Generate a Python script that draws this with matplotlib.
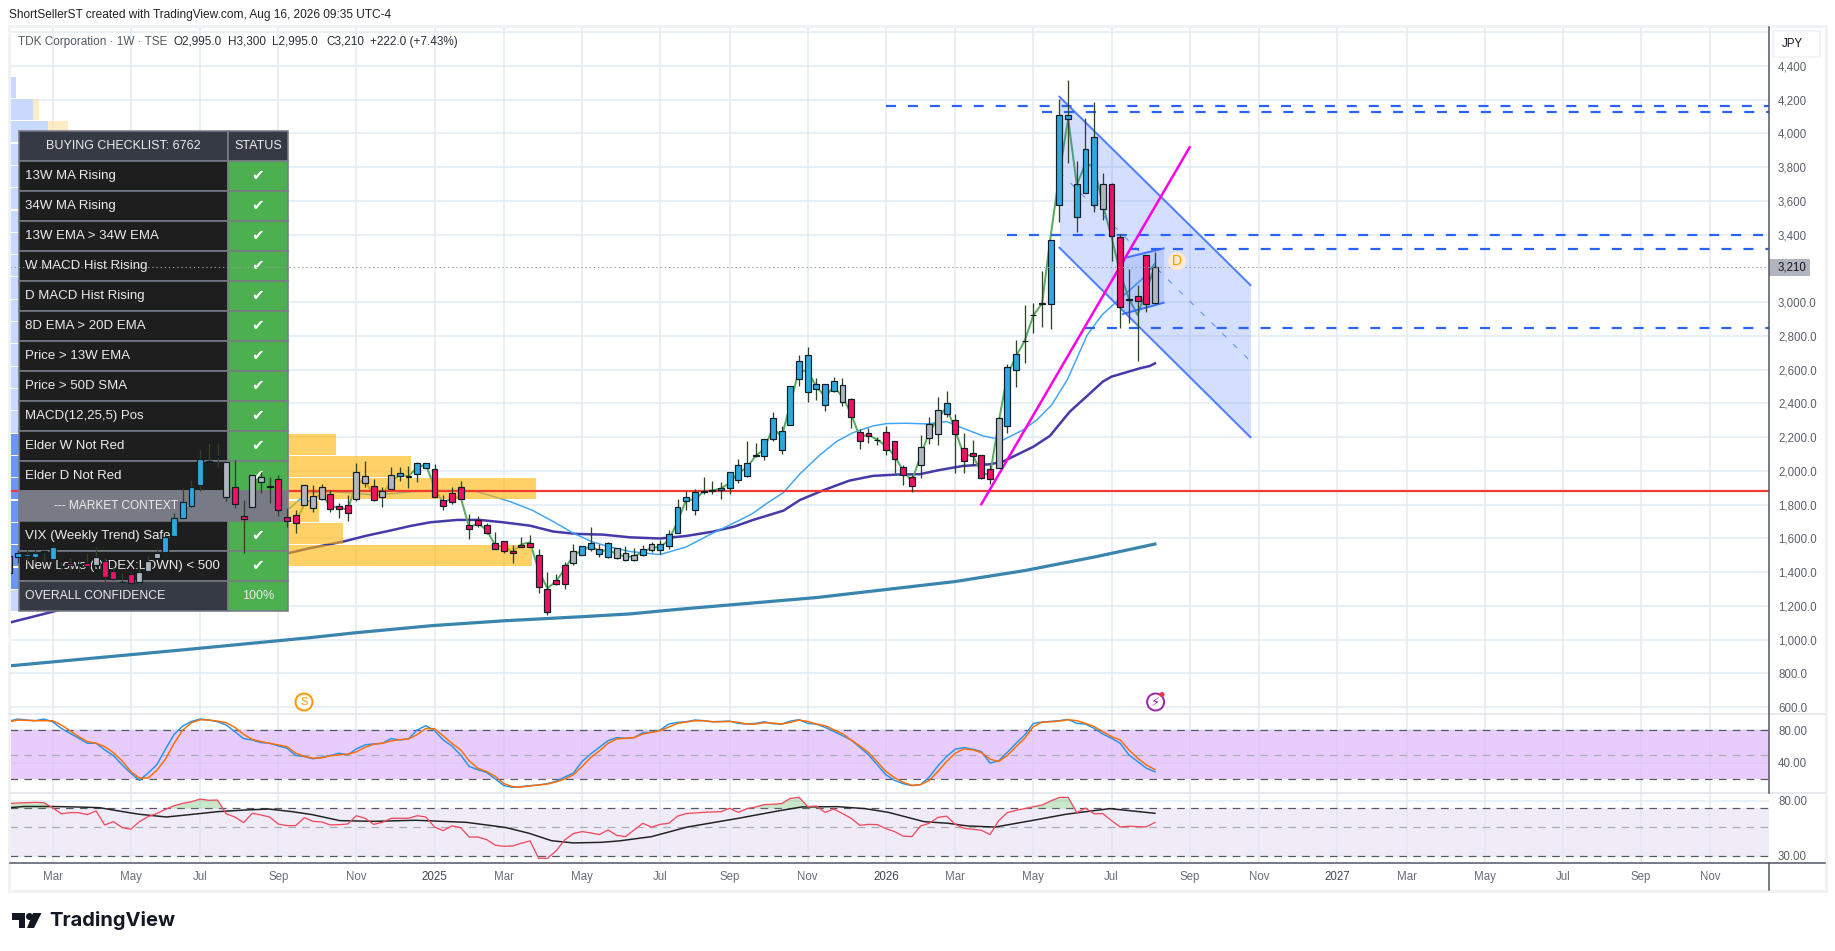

########################################################################
# TDK weekly chart with checklist table, stochastic and RSI panels     #
########################################################################

import numpy as np
import matplotlib
matplotlib.use('Agg')
import matplotlib.pyplot as plt
from matplotlib.patches import Rectangle, Circle, Polygon
from matplotlib.lines import Line2D
from matplotlib.transforms import Affine2D

plt.rcParams['font.family'] = ['Liberation Sans', 'DejaVu Sans']
plt.rcParams['lines.scale_dashes'] = False

# candles, one per week, week 0 is 4 Mar 2024
first_week = -5
body_hi = [1496,1512,1506,1512,1524,1552,1437,1457,1450,1457,
           1492,1469,1410,1345,1392,1404,1469,1516,1611,1724,
           1818,1907,2073,2061,2091,2051,1907,1731,1974,1967,
           1912,1955,1730,1737,1919,1850,1904,1862,1791,1797,
           1992,1969,1909,1880,1975,1987,1971,2046,2046,2010,
           1830,1872,1904,1678,1712,1678,1576,1584,1528,1560,
           1572,1505,1303,1353,1441,1524,1558,1572,1536,1572,
           1542,1512,1505,1540,1565,1565,1625,1785,1844,1874,
           1884,1888,1902,1996,2034,2050,2093,2188,2312,2235,
           2502,2650,2686,2514,2514,2536,2508,2425,2229,2223,
           2186,2229,2176,2022,1963,2141,2277,2360,2401,2300,
           2135,2105,2093,2010,2312,2615,2692,2773,2924,2994,
           3367,4107,4107,3698,3906,3977,3698,3698,3384,3017,3035,3278,3210]
body_lo = [1394,1492,1494,1492,1520,1477,1429,1445,1445,1437,
           1443,1370,1358,1343,1335,1344,1406,1483,1518,1613,
           1720,1791,1915,2053,2083,1848,1805,1714,1785,1933,
           1908,1767,1702,1690,1797,1783,1836,1773,1773,1753,
           1836,1931,1826,1848,1896,1969,1967,1981,2016,1844,
           1791,1815,1836,1655,1678,1631,1540,1524,1516,1548,
           1552,1311,1163,1333,1329,1453,1501,1536,1511,1489,
           1487,1471,1475,1505,1530,1530,1555,1631,1821,1767,
           1874,1884,1890,1898,1945,1969,2091,2087,2188,2123,
           2275,2543,2466,2488,2389,2472,2407,2318,2176,2206,
           2184,2123,2069,1979,1913,2034,2194,2218,2336,2218,
           2058,2087,1957,1951,2016,2265,2601,2771,2922,2992,
           2987,3578,4087,3503,3645,3574,3550,3390,2970,3015,3005,2987,2995]
wick_hi = [1496,1532,1536,1536,1532,1562,1463,1483,1473,1512,
           1548,1483,1433,1394,1404,1433,1496,1542,1631,1749,
           1897,1947,2124,2164,2164,2051,2065,1828,1974,1996,
           1967,1976,1779,1769,1919,1917,1923,1888,1809,1858,
           2046,2060,1953,1908,2022,2022,2030,2056,2050,2042,
           1858,1908,1941,1746,1734,1690,1639,1584,1562,1611,
           1621,1538,1402,1390,1461,1568,1558,1667,1568,1580,
           1542,1556,1545,1560,1580,1590,1650,1832,1882,1892,
           1963,1941,1937,1996,2069,2178,2164,2188,2350,2267,
           2502,2688,2733,2549,2514,2555,2549,2435,2249,2253,
           2204,2267,2176,2036,1977,2212,2322,2437,2474,2338,
           2223,2184,2093,2036,2322,2634,2777,2984,2993,3187,
           3367,4202,4316,3837,4089,4186,3767,3704,3404,3197,3102,3278,3300]
wick_lo = [1394,1453,1463,1463,1469,1473,1414,1414,1404,1429,
           1433,1344,1354,1344,1325,1315,1404,1477,1516,1607,
           1720,1785,1884,2049,2026,1824,1783,1516,1785,1872,
           1808,1733,1670,1631,1797,1759,1828,1759,1724,1706,
           1825,1908,1821,1789,1896,1943,1898,1937,2016,1844,
           1769,1803,1832,1599,1670,1627,1540,1512,1457,1548,
           1548,1279,1149,1327,1303,1441,1501,1528,1489,1485,
           1477,1469,1465,1495,1520,1510,1540,1631,1769,1740,
           1864,1864,1836,1862,1931,1967,2081,2067,2180,2103,
           2271,2506,2411,2421,2358,2470,2385,2257,2131,2168,
           2154,2095,1990,1917,1878,1959,2160,2154,2322,1987,
           1987,2036,1951,1923,2016,2227,2500,2642,2820,2855,
           2839,3475,3827,3416,3645,3534,3487,3246,2849,2875,2654,2944,2995]
# b blue, p pink, g grey, k doji
bar_tone = ('bbbbkbppppgppkpgggbbbbbbbgppggkpppgggpppggpggbkbb'
            'pppppppppppppppp' 'gbbbbgggbgbbbbbbkbbbbkbbbbbbbbbg'
            'pppkppppgggbpppppgbbkkkbbbbbbgppkppg')

# short green line through the closes, starts at week 28
fast_start = 28
fast_line = [1700,1800,1840,1860,1790,1785,1770,1930,1945,1850,1860,1940,1975,1970,
             2020,2040,1900,1810,1840,1845,1665,1690,1650,1560,1550,1522,1565,1578,
             1410,1305,1345,1420,1500,1530,1555,1525,1530,1510,1490,1495,1520,1545,
             1550,1590,1700,1830,1830,1880,1885,1895,1930,1990,2020,2090,2130,2260,
             2200,2400,2600,2590,2500,2440,2500,2440,2340,2200,2215,2185,2150,2090,
             2000,1940,2090,2230,2310,2380,2240,2090,2095,1990,1975,2290,2570,2680,
             2772,2923,2993,3398,3763,4090,3694,3823,3803,3576,3388,3171,3023,2924,
             3072,3210]

ema13_weeks = [-5,-4,27.3,29.3,32.3,37,39.7,42.7,46.6,48.9,52.7,55.2,57.7,60,62.1,64,66.6,
               70,73,76,79.2,80.7,82.3,84.2,86.1,88.4,90.3,92.2,94.5,96.1,98.4,100.7,103,
               104.9,107.2,109.5,111.8,113.4,115.1,116.9,119.2,120.9,122.6,124.1,125.6,127]
ema13_vals = [1248,1277,1779,1868,1878,1858,1868,1884,1884,1878,1819,1769,1700,1631,1582,1552,1522,
              1505,1550,1630,1710,1750,1809,1872,1983,2095,2174,2227,2267,2281,2283,2279,2293,
              2253,2208,2184,2243,2303,2391,2540,2806,2925,3004,3072,3141,3230]
ema34_weeks = [-5,0,27.4,29.6,33.5,36.2,38.9,41.2,43.5,46.6,49.2,51.9,55,57.7,60.4,63.4,66.5,
               70,73,76,78.5,80.7,84.2,86.1,88.7,91.8,94.5,97.3,99.9,102.2,104.9,108,109.5,
               113,114.9,117.2,119.2,121,122,125.3,126.4,127]
ema34_vals = [1101,1166,1516,1542,1582,1617,1647,1674,1696,1710,1710,1696,1676,1641,1627,1623,1607,
              1600,1615,1640,1670,1710,1765,1828,1884,1943,1971,1979,1981,2006,2030,2040,2056,
              2144,2208,2352,2445,2530,2559,2609,2622,2638]
sma200_weeks = [-5,15,29.6,35,43.8,51.9,61.1,66.5,72,88,104,112,120,127]
sma200_vals = [845,940,1012,1042,1084,1112,1137,1153,1180,1250,1345,1410,1490,1567]

# horizontal levels, drawn from the given week to the axis
level_prices = [4163,4130,3398,3315,2849]
level_starts = [96,114,110,124,119]
support_price = 1881
last_close = 3210

# drawn channels and trend line
channel_weeks = [116,138]
channel_upper = [4218,3102]
channel_lower = [3323,2200]
flag_weeks = [123.3,128]
flag_upper = [3260,3319]
flag_lower = [2930,2997]
trend_weeks = [107,131]
trend_prices = [1803,3918]

# volume profile rows, top price of each row, right ends in weeks
profile_tops = [4336,4204,4072,3940,3808,3675,3543,3411,3279,3147,3014,2882,
                2750,2618,2486,2353,2221,2089,1957,1825,1692,1560,1428,1296]
profile_blue = [-4.2,-2.3,-0.5,10,10,10,10,10,10,10,10,10,10,10,10,10,20,20,20,20,20,20,20,10]
profile_total = [-4.2,-1.6,1.8,15,15,15,15,15,15,15,15,15,15,15,15,15,32.6,41.3,55.7,30.7,33.5,55.2,25,15]

# stochastic panel
stoch_k = [90.9,93.4,92.2,91.4,93.4,90.1,82,76,69.9,63.8,63.8,55.7,48.8,37.4,27.3,18.4,27.3,37.4,
           56.5,74.7,84.9,90.5,93.4,92.2,90.1,86.1,78,69.5,67.8,64.6,63.8,60.5,57.7,48.8,47.6,44.7,
           46.7,48.8,51.6,49.6,56.9,61.8,63,63.8,69.5,67.8,69.1,80,85.3,79.2,67.8,60.5,49.6,35.4,
           31.4,28.1,20,11.9,9.9,10.7,11.9,12.7,14.3,17.2,22.4,27.3,41.5,50.8,58.9,67,70.7,
           69.9,70.7,76.8,77.2,80,87.3,89.3,90.1,92.2,91.4,90.1,90.5,90.9,88.1,87.3,88.1,90.1,87.7,
           87.3,90.9,92.6,88.1,87.3,83.2,78.4,73.1,67.8,58.9,49.6,37.4,25.3,18.4,14.3,11.9,13.1,22.4,
           36.2,47.6,56.5,58.5,56.5,53.6,39.5,42.3,52.8,63.8,73.9,88.1,89.7,90.5,91.4,93,88.1,87.3,
           82,75.1,69.9,63.8,49.6,41.5,33.4,28.9]
stoch_d = [90.1,92.2,91.8,91.4,91.4,91.4,86.1,79.2,71.9,65.8,63.8,59.7,52.4,42.3,29.3,21.2,21.2,30.5,
           44.3,63.8,80,88.9,92.6,92.2,90.9,88.9,83.2,74.7,68.6,65.8,63.8,61.8,59.7,51.6,47.6,45.5,
           45.9,48.4,49.6,50.4,53.2,58.9,62.6,63.8,66.6,68.2,69.1,74.3,82,81.6,72.7,63.8,55.7,42.3,
           33,29.3,23.2,14.3,10.7,10.3,11.5,12.7,13.9,16.4,20,25.3,35.4,46.4,54.5,63.8,69.1,
           69.9,70.7,75.1,77.2,79.2,83.6,88.1,89.7,91.4,91.4,90.1,90.1,90.5,89.3,87.3,87.3,88.9,88.5,
           87.3,89.3,92.2,90.5,87.3,85.3,80.4,75.5,67.8,60.5,52.4,41.1,29.3,21.6,15.9,12.3,13.1,18.4,
           29.3,41.5,51.6,56.9,55.7,52.4,44.3,41.5,48.8,59.7,69.9,84.1,89.7,90.1,90.9,92.6,91.4,88.1,
           84.1,78,71.9,67.8,55.7,45.5,37.4,31.4]

# RSI panel
rsi_vals = [76.7,77.2,77.6,78.1,77.6,71,63.6,65,65,62.7,67,52.1,55.3,49.8,48.3,55.3,60.5,63.9,68.9,
            73.5,76.7,79,82.9,81,81.4,63.6,60.1,54.3,64.2,62.3,60.1,53,51.5,51.5,59.4,55.6,55,52.1,
            52.4,53,61.5,58.7,52.7,54.6,58.7,58.7,58.7,61.5,60.1,50.2,47.1,51.2,49.8,42,42,40.1,36.3,
            35.6,35.8,37.6,39.2,28.7,28.7,32.7,39.9,44.7,46.3,45.2,43.9,47.7,43.2,
            42.3,47.7,53.7,50.2,52.7,53.7,61,63.9,64.6,65.3,65.7,66.1,70.2,65.3,69.8,71.9,75,75.5,
            76.4,83.9,85.4,72.3,73.1,65.3,69.3,63.9,58.7,51.8,52.7,52.4,48.8,46.3,42.7,42.3,51.2,53.7,
            59.7,61,52.7,49.1,48.3,47.4,43.9,56.3,65,67.7,69.8,72.3,74.4,80,85.4,85.4,65,70.4,63.6,
            63.9,56.3,50.3,50.9,50.6,50.3,54.6]
rsi_ma_weeks = [-5,-3.3,0,3.1,5.4,7.6,9.9,13.1,15.8,19,22.2,24.9,27.6,29.9,33.1,37.2,41.8,47.7,52.2,
                54.9,57.5,60,63.2,65.3,69,73.1,79,83.6,86.3,90.4,93.6,96.3,100.4,103.2,105.4,108.6,
                113.2,116.8,121.8,127]
rsi_ma_vals = [71,72.5,72.5,71.8,71,67,63.2,60.1,62.7,66.1,68.1,69.3,66.1,62.7,56.3,55.6,56.7,54.6,49.8,
               44.9,39.3,37.8,38.2,39.2,42.3,50.2,58.7,67,71.9,72.3,69.8,65.3,55.3,53.7,51.2,50.2,
               57,63.2,69.8,64.2]

# axis ticks
month_weeks = [0,9,17,26,35,44,52,61,70,78,87,96,104,113,122,131,139,148,156,165,174,183,191]
month_names = ['Mar','May','Jul','Sep','Nov','2025','Mar','May','Jul','Sep','Nov','2026',
               'Mar','May','Jul','Sep','Nov','2027','Mar','May','Jul','Sep','Nov']
price_ticks = [4600,4400,4200,4000,3800,3600,3400,3000,2800,2600,2400,2200,2000,
               1800,1600,1400,1200,1000,800,600]
price_labels = ['','4,400','4,200','4,000','3,800','3,600','3,400','3,000.0','2,800.0','2,600.0',
                '2,400.0','2,200.0','2,000.0','1,800.0','1,600.0','1,400.0','1,200.0','1,000.0',
                '800.0','600.0']

# checklist table
check_rows = ['13W MA Rising','34W MA Rising','13W EMA > 34W EMA','W MACD Hist Rising',
              'D MACD Hist Rising','8D EMA > 20D EMA','Price > 13W EMA','Price > 50D SMA',
              'MACD(12,25,5) Pos','Elder W Not Red','Elder D Not Red']
context_rows = ['VIX (Weekly Trend) Safe','New Lows (INDEX:LOWN) < 500']

W, H = 1835, 951
LEFT, RIGHT = 10, 1769
BLUE, PINK, GREY = '#2fa8e0', '#f50f62', '#b2b5be'
tone_colors = {'b':BLUE, 'p':PINK, 'g':GREY, 'k':'#000000'}
LEVEL = '#2962ff'

def lw(px):
  return px*0.72

def add_panel(top, bottom):
  ax = fig.add_axes([LEFT/W, 1-bottom/H, (RIGHT-LEFT)/W, (bottom-top)/H])
  ax.set_xlim(-4.91, 197.75)
  ax.set_xticks(month_weeks)
  ax.set_xticklabels([])
  ax.grid(True, color='#e3ecf2', lw=lw(1.5))
  ax.set_axisbelow(True)
  ax.yaxis.tick_right()
  ax.tick_params(length=0, labelsize=8.3, labelcolor='#5d606b', pad=6.5)
  for side in ['left','top','bottom','right']:
    ax.spines[side].set_visible(False)
  return ax

fig = plt.figure(figsize=(W/100, H/100), dpi=100)
# pixel coordinates with the origin top left, for the furniture around the chart
px = Affine2D().scale(1/W, -1/H).translate(0, 1) + fig.transFigure

def frame_line(x0, y0, x1, y1, color, width=1.5):
  fig.add_artist(Line2D([x0,x1], [y0,y1], color=color, lw=lw(width), transform=px))

ax = add_panel(27, 714)
ax_st = add_panel(714, 793)
ax_rsi = add_panel(793, 863)

# ---- price panel
ax.set_ylim(560, 4631)
ax.set_yticks(price_ticks)
ax.set_yticklabels(price_labels)
weeks = first_week + np.arange(len(body_hi))

ax.plot(sma200_weeks, sma200_vals, color='#3a85ad', lw=lw(3.2), zorder=3)
ax.plot(ema34_weeks, ema34_vals, color='#453aa8', lw=lw(2.5), zorder=3)
ax.plot(ema13_weeks, ema13_vals, color='#42a5f5', lw=lw(1.5), zorder=3)
ax.plot(fast_start + np.arange(len(fast_line)), fast_line, color='#5aab61', lw=lw(2), zorder=3)

# volume profile
tops = np.array(profile_tops)
x_min = ax.get_xlim()[0]
total = np.array(profile_total)
blue = np.array(profile_blue)
row_h = 125
dark = tops <= 2221
dark[-1] = False
ax.barh(tops-row_h/2, total-x_min, left=x_min, height=row_h,
        color=['#ffb300' if d else '#ffe0a0' for d in dark], alpha=0.6, lw=0, zorder=4)
ax.barh(tops-row_h/2, blue-x_min, left=x_min, height=row_h,
        color=['#6d94fb' if d else '#c9d8fd' for d in dark], lw=0, zorder=4)

# levels and drawings
ax.plot(ax.get_xlim(), [support_price]*2, color='#f23a33', lw=lw(2.2), zorder=5)
for price, start in zip(level_prices, level_starts):
  ax.plot([start, ax.get_xlim()[1]], [price, price], color=LEVEL, lw=lw(2.2),
          ls=(0,(7.2,8.6)), zorder=5)
ax.fill_between(channel_weeks, channel_lower, channel_upper, color=LEVEL, alpha=0.2, lw=0, zorder=4.5)
ax.plot(channel_weeks, channel_upper, color=LEVEL, alpha=0.8, lw=lw(2), zorder=5)
ax.plot(channel_weeks, channel_lower, color=LEVEL, alpha=0.8, lw=lw(2), zorder=5)
ax.plot(channel_weeks, np.add(channel_upper, channel_lower)/2, color=LEVEL, alpha=0.7, lw=lw(1),
        ls=(0,(4,7)), zorder=5)
ax.fill_between(flag_weeks, flag_lower, flag_upper, color=LEVEL, alpha=0.16, lw=0, zorder=4.5)
ax.plot(flag_weeks, flag_upper, color=LEVEL, alpha=0.85, lw=lw(2), zorder=5)
ax.plot(flag_weeks, flag_lower, color=LEVEL, alpha=0.85, lw=lw(2), zorder=5)
ax.plot(trend_weeks, trend_prices, color='#ff00e6', lw=lw(2.5), zorder=5)

# checklist table sits over the lines but under the candles
def cell(x0, y0, x1, y1, color):
  ax.add_patch(Rectangle((x0,y0), x1-x0, y1-y0, facecolor=color, edgecolor='#787b86',
                         lw=lw(1.6), transform=px, zorder=6, clip_on=False))

def cell_text(x, y, s, ha='left', color='#ececec', size=9.5, **kw):
  ax.text(x, y, s, transform=px, ha=ha, va='center', color=color, fontsize=size,
          zorder=7, clip_on=False, **kw)

tab_left, tab_mid, tab_right, row_px = 19, 228, 288, 30
y = 131
cell(tab_left, y, tab_mid, y+row_px, '#363a45')
cell(tab_mid, y, tab_right, y+row_px, '#363a45')
cell_text((tab_left+tab_mid)/2, y+row_px/2, 'BUYING CHECKLIST: 6762', ha='center', size=9)
cell_text((tab_mid+tab_right)/2, y+row_px/2, 'STATUS', ha='center', size=9)
y += row_px

def check_row(name, y):
  cell(tab_left, y, tab_mid, y+row_px, '#1e1e1e')
  cell(tab_mid, y, tab_right, y+row_px, '#4caf50')
  cell_text(25, y+row_px/2, name)
  cell_text((tab_mid+tab_right)/2, y+row_px/2, '\u2714', ha='center', color='white', size=11)

for name in check_rows:
  check_row(name, y)
  y += row_px
cell(tab_left, y, tab_right, y+row_px, '#787b86')
cell_text((tab_left+tab_mid)/2, y+row_px/2, '--- MARKET CONTEXT ---', ha='center', size=8.6)
y += row_px
for name in context_rows:
  check_row(name, y)
  y += row_px
cell(tab_left, y, tab_mid, y+row_px, '#363a45')
cell(tab_mid, y, tab_right, y+row_px, '#4caf50')
cell_text(25, y+row_px/2, 'OVERALL CONFIDENCE', size=8.8)
cell_text((tab_mid+tab_right)/2, y+row_px/2, '100%', ha='center', size=9)

# candles
ax.vlines(weeks, wick_lo, wick_hi, colors='#2f4225', lw=lw(1.3), zorder=8)
ax.bar(weeks, np.subtract(body_hi, body_lo), bottom=body_lo, width=0.68,
       color=[tone_colors[t] for t in bar_tone], edgecolor='#0e1f26', lw=lw(1.2), zorder=8.5)

ax.axhline(last_close, color='#9598a1', lw=lw(1), ls=(0,(1,2)), zorder=9)

# event badges
ax.add_patch(Circle((1177,261), 9, facecolor='#ffe9d0', edgecolor='none', transform=px, zorder=9))
ax.text(1177, 261, 'D', transform=px, ha='center', va='center', color='#ff9800', fontsize=10, zorder=10)
ax.add_patch(Circle((304,702), 8.5, facecolor='white', edgecolor='#ff9800', lw=lw(2), transform=px, zorder=9))
ax.text(304, 702, 'S', transform=px, ha='center', va='center', color='#ff9800', fontsize=8, zorder=10)
ax.add_patch(Circle((1155.6,702), 8.5, facecolor='white', edgecolor='#9c27b0', lw=lw(2), transform=px, zorder=9))
ax.text(1155.6, 702, '\u26a1', transform=px, ha='center', va='center', color='#9c27b0', fontsize=9.5, zorder=10,
        family='DejaVu Sans')
ax.add_patch(Circle((1162,694.5), 2.5, facecolor='#f23645', edgecolor='none', transform=px, zorder=11))

# ---- stochastic panel
ax_st.set_ylim(2.9, 99.6)
ax_st.set_yticks([80,40])
ax_st.set_yticklabels(['80.00','40.00'])
ax_st.axhspan(20, 80, color='#dcb3fb', alpha=0.65, lw=0, zorder=2)
for level, col in [(80,'#555860'),(20,'#555860'),(50,'#a9abb2')]:
  ax_st.axhline(level, color=col, lw=lw(1.2), ls=(0,(5.5,4.5)), zorder=3)
st_weeks = first_week + np.arange(len(stoch_k))
ax_st.plot(st_weeks, stoch_k, color='#2196f3', lw=lw(1.5), zorder=4)
ax_st.plot(st_weeks, stoch_d, color='#ff6d00', lw=lw(1.5), zorder=4)

# ---- RSI panel
ax_rsi.set_yscale('log')
ax_rsi.set_ylim(26.4, 92.3)
ax_rsi.set_yticks([80,30])
ax_rsi.set_yticklabels(['80.00','30.00'])
ax_rsi.minorticks_off()
ax_rsi.axhspan(30, 70, color='#e7e2f5', alpha=0.65, lw=0, zorder=2)
for level, col in [(70,'#555860'),(30,'#555860'),(50,'#a9abb2')]:
  ax_rsi.axhline(level, color=col, lw=lw(1.2), ls=(0,(5.5,4.5)), zorder=3)
rsi_weeks = first_week + np.arange(len(rsi_vals))
rsi = np.array(rsi_vals)
ax_rsi.fill_between(rsi_weeks, 70, rsi, where=rsi>70, interpolate=True, color='#66bb6a', alpha=0.35, lw=0, zorder=3)
ax_rsi.plot(rsi_ma_weeks, rsi_ma_vals, color='#222222', lw=lw(1.5), zorder=4)
ax_rsi.plot(rsi_weeks, rsi, color='#f4485c', lw=lw(1.3), zorder=4)

# time axis
ax_rsi.set_xticklabels(month_names)
ax_rsi.tick_params(axis='x', pad=5.5, labelsize=8.3, labelcolor='#6a6d78')
for label in ax_rsi.get_xticklabels():
  if label.get_text().startswith('20'):
    label.set_color('#434651')

# ---- frame around the panels
fig.add_artist(Rectangle((9,26), 1817, 865, facecolor='none', edgecolor='#f1f2f4', lw=lw(3), transform=px))
frame_line(LEFT, 714, 1825, 714, '#e0e3eb')
frame_line(LEFT, 793, 1825, 793, '#e0e3eb')
frame_line(RIGHT, 27, RIGHT, 793, '#50535e')
frame_line(RIGHT, 863, RIGHT, 890, '#50535e')
frame_line(LEFT, 863, 1825, 863, '#50535e')

# last price tag and currency button
fig.add_artist(Rectangle((RIGHT,259), 41, 17, facecolor='#b2b5be', edgecolor='none', transform=px))
fig.text(1778, 267.5, '3,210', transform=px, va='center', color='#131722', fontsize=8.3)
fig.add_artist(Rectangle((1773,31), 47, 26, facecolor='white', edgecolor='#f0f1f3', lw=lw(1.5), transform=px))
fig.text(1782, 44, 'JPY', transform=px, va='center', color='#131722', fontsize=8.3)

# header and legend
fig.text(9, 15, 'ShortSellerST created with TradingView.com, Aug 16, 2026 09:35 UTC-4', transform=px,
         va='center', color='#222222', fontsize=8.6)
fig.text(18, 42, 'TDK Corporation \u00b7 1W \u00b7 TSE', transform=px, va='center', color='#555860', fontsize=8.5,
         zorder=20)
for x, s in [(173,'O2,995.0'),(228,'H3,300'),(272,'L2,995.0'),(326,'C3,210'),(370,'+222.0 (+7.43%)')]:
  fig.text(x, 42, s, transform=px, va='center', color='#2a2e39', fontsize=8.5, zorder=20)

# TradingView mark
for points in [[(12,913),(25,913),(25,928),(19,928),(19,920),(12,920)],
               [(33,913),(41.5,913),(34,928),(27,928)]]:
  fig.add_artist(Polygon(points, closed=True, facecolor='#131722', edgecolor='none', transform=px))
fig.add_artist(Circle((29.5,916.5), 3.5, facecolor='#131722', edgecolor='none', transform=px))
fig.text(49, 920.5, 'TradingView', transform=px, va='center', color='#131722', fontsize=14.5,
         family='Inter', fontweight='bold')

fig.savefig('out.png', dpi=100)
